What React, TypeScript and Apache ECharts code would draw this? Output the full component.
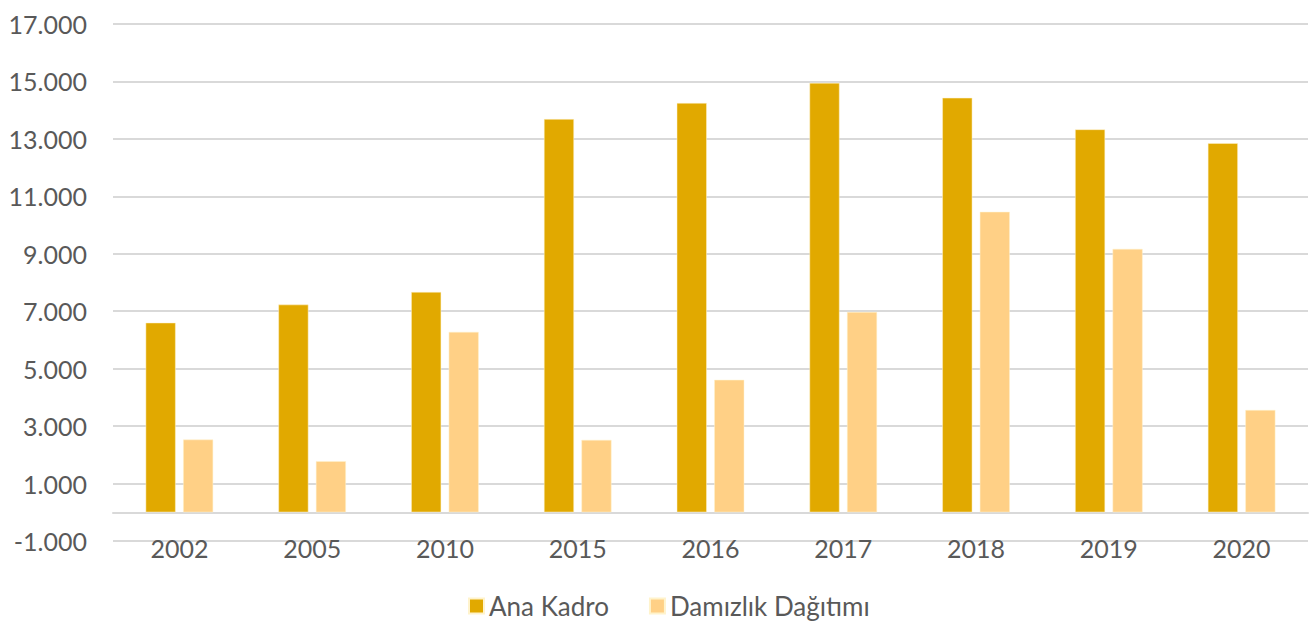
import React, { useEffect, useRef } from "react";
import * as echarts from "echarts";

const categories = ["2002", "2005", "2010", "2015", "2016", "2017", "2018", "2019", "2020"];
const anaKadro = [6600, 7230, 7670, 13690, 14250, 14950, 14430, 13330, 12850];
const damizlik = [2530, 1780, 6280, 2520, 4610, 6970, 10460, 9170, 3560];
const seriesNames = ["Ana Kadro", "Damızlık Dağıtımı"];

const fmt = (v: number) => {
  const s = Math.abs(v).toString().replace(/\B(?=(\d{3})+(?!\d))/g, ".");
  return (v < 0 ? "-" : "") + s;
};

export default function App() {
  const ref = useRef<HTMLDivElement>(null);
  useEffect(() => {
    if (!ref.current) return;
    const chart = echarts.init(ref.current, undefined, { renderer: "svg" });
    const font = "Lato, 'Open Sans', sans-serif";
    chart.setOption({
      animation: false,
      textStyle: { fontFamily: font },
      legend: {
        bottom: 1,
        left: 463,
        itemWidth: 15,
        itemHeight: 15,
        itemGap: 40,
        icon: "rect",
        textStyle: { fontSize: 26, color: "#595959", fontFamily: font },
        data: seriesNames,
      },
      grid: { left: 113, right: 1, top: 24, bottom: 84, containLabel: false },
      xAxis: {
        type: "category",
        data: categories,
        axisLine: { onZero: true, lineStyle: { color: "#d9d9d9", width: 2 } },
        axisTick: { show: false },
        axisLabel: { fontSize: 25, color: "#595959", margin: -6, fontFamily: font },
      },
      yAxis: {
        type: "value",
        min: -1000,
        max: 17000,
        interval: 2000,
        axisLine: { show: false },
        axisTick: { show: false },
        splitLine: { lineStyle: { color: "#d9d9d9", width: 2 } },
        axisLabel: { fontSize: 25, color: "#595959", margin: 26, formatter: fmt, fontFamily: font },
      },
      series: [
        {
          name: seriesNames[0],
          type: "bar",
          data: anaKadro,
          barWidth: 30,
          barGap: "25%",
          itemStyle: { color: "#E1A900", borderColor: "#FFF3CC", borderWidth: 0.5 },
        },
        {
          name: seriesNames[1],
          type: "bar",
          data: damizlik,
          barWidth: 30,
          barGap: "25%",
          itemStyle: { color: "#FFD086", borderColor: "#FFF3CC", borderWidth: 0.5 },
        },
      ],
    });
    return () => chart.dispose();
  }, []);
  return <div ref={ref} style={{ width: 1309, height: 625, position: "absolute", left: 0, top: 0 }} />;
}
